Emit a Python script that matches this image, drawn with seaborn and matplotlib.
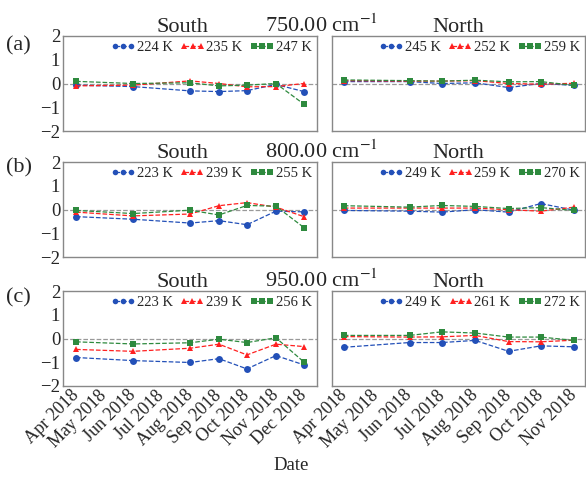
import pandas as pd
import matplotlib
matplotlib.use("Agg")
import matplotlib.pyplot as plt
import matplotlib.dates as mdates
import seaborn as sns

# months with data
south_dates = ['2018-04-01', '2018-06-01', '2018-08-01', '2018-09-01',
               '2018-10-01', '2018-11-01', '2018-12-01']
north_dates = ['2018-04-01', '2018-06-01', '2018-07-01', '2018-08-01',
               '2018-09-01', '2018-10-01', '2018-11-01']

wavenumbers = ['750.00', '800.00', '950.00']
panel_tags = ['(a)', '(b)', '(c)']

# 750 cm-1
s750_labels = ['224 K', '235 K', '247 K']
s750_blue = [-0.07, -0.13, -0.31, -0.34, -0.30, -0.04, -0.34]
s750_red = [-0.10, -0.07, 0.11, 0.00, -0.14, -0.13, 0.00]
s750_green = [0.09, 0.00, 0.03, -0.10, -0.07, 0.00, -0.87]
n750_labels = ['245 K', '252 K', '259 K']
n750_blue = [0.08, 0.08, 0.00, 0.03, -0.17, 0.00, -0.08]
n750_red = [0.12, 0.10, 0.10, 0.12, 0.00, -0.03, 0.01]
n750_green = [0.15, 0.12, 0.10, 0.14, 0.07, 0.08, -0.08]

# 800 cm-1
s800_labels = ['223 K', '239 K', '255 K']
s800_blue = [-0.30, -0.41, -0.57, -0.47, -0.64, -0.07, -0.10]
s800_red = [-0.11, -0.27, -0.19, 0.16, 0.29, 0.10, -0.30]
s800_green = [-0.04, -0.17, -0.03, -0.23, 0.17, 0.14, -0.76]
n800_labels = ['249 K', '259 K', '270 K']
n800_blue = [-0.04, -0.07, -0.11, -0.01, -0.11, 0.25, -0.03]
n800_red = [0.06, 0.06, 0.06, 0.06, -0.01, -0.07, 0.10]
n800_green = [0.16, 0.10, 0.17, 0.13, 0.04, 0.08, -0.04]

# 950 cm-1
s950_labels = ['223 K', '239 K', '256 K']
s950_blue = [-0.80, -0.93, -1.01, -0.85, -1.28, -0.72, -1.11]
s950_red = [-0.46, -0.54, -0.41, -0.24, -0.69, -0.24, -0.34]
s950_green = [-0.14, -0.23, -0.18, -0.03, -0.17, 0.03, -0.99]
n950_labels = ['249 K', '261 K', '272 K']
n950_blue = [-0.37, -0.17, -0.17, -0.08, -0.54, -0.31, -0.35]
n950_red = [0.08, 0.06, 0.07, 0.13, -0.13, -0.14, -0.07]
n950_green = [0.13, 0.13, 0.28, 0.23, 0.06, 0.06, -0.08]

south_rows = [
    (s750_labels, [s750_blue, s750_red, s750_green]),
    (s800_labels, [s800_blue, s800_red, s800_green]),
    (s950_labels, [s950_blue, s950_red, s950_green]),
]
north_rows = [
    (n750_labels, [n750_blue, n750_red, n750_green]),
    (n800_labels, [n800_blue, n800_red, n800_green]),
    (n950_labels, [n950_blue, n950_red, n950_green]),
]

colors = ['#2350b8', '#ff2020', '#2e8a3e']
markers = ['o', '^', 's']

sns.set_style('white')
plt.rcParams['font.family'] = ['Liberation Serif', 'DejaVu Serif']
plt.rcParams['mathtext.fontset'] = 'stix'

W, H = 586, 479
fig = plt.figure(figsize=(W / 100, H / 100), dpi=100)

row_px = [(36, 131), (162, 257), (291, 386)]
tag_px = [46, 168, 298]
left_px = (63, 317)
right_px = (332, 585)


def make_ax(xpx, ypx):
    return fig.add_axes([xpx[0] / W, 1 - ypx[1] / H,
                         (xpx[1] - xpx[0]) / W, (ypx[1] - ypx[0]) / H])


def draw_panel(ax, dates, labels, series, xlim, show_y, show_x):
    x = pd.to_datetime(dates)
    ax.axhline(0, color='#999999', lw=0.9, ls='--', zorder=1)
    for lab, vals, c, m in zip(labels, series, colors, markers):
        sns.lineplot(x=x, y=vals, ax=ax, color=c, marker=m, linestyle='--',
                     lw=0.9, markersize=5, markeredgewidth=0, label=lab)
    ax.set_ylim(-2, 2)
    ax.set_yticks([-2, -1, 0, 1, 2])
    ax.set_xlim(pd.to_datetime(xlim[0]), pd.to_datetime(xlim[1]))
    ax.xaxis.set_major_locator(mdates.MonthLocator())
    ax.xaxis.set_major_formatter(mdates.DateFormatter('%b %Y'))
    ax.set_xlabel('')
    ax.set_ylabel('')
    ax.tick_params(direction='in', length=3, color='#888888', labelsize=13.5, pad=2)
    ax.tick_params(axis='x', pad=5)
    if not show_y:
        ax.set_yticklabels([])
    if show_x:
        for t in ax.get_xticklabels():
            t.set_rotation(45)
            t.set_ha('right')
            t.set_va('center')
            t.set_rotation_mode('anchor')
            t.set_fontsize(13)
    else:
        ax.set_xticklabels([])
    for s in ax.spines.values():
        s.set_color('#888888')
        s.set_linewidth(1.0)
    ax.legend(loc='upper right', ncol=3, frameon=False, numpoints=3,
              fontsize=10.5, handlelength=1.7, handletextpad=0.1,
              columnspacing=0.5, borderaxespad=0.15, borderpad=0.2,
              markerscale=0.8)


for i in range(3):
    top, bottom = row_px[i]
    axl = make_ax(left_px, row_px[i])
    axr = make_ax(right_px, row_px[i])
    draw_panel(axl, south_dates, south_rows[i][0], south_rows[i][1],
               ('2018-03-18', '2018-12-15'), True, i == 2)
    draw_panel(axr, north_dates, north_rows[i][0], north_rows[i][1],
               ('2018-03-21', '2018-11-11'), False, i == 2)
    ty = 1 - (top - 4) / H
    fig.text(182 / W, ty, 'South', ha='center', va='baseline', fontsize=16)
    fig.text(458 / W, ty, 'North', ha='center', va='baseline', fontsize=16)
    fig.text(322 / W, ty, wavenumbers[i] + r' cm$^{-1}$', ha='center',
             va='baseline', fontsize=16)
    fig.text(6 / W, 1 - tag_px[i] / H, panel_tags[i], ha='left', va='center',
             fontsize=16)

fig.text(291 / W, 1 - 466 / H, 'Date', ha='center', va='center', fontsize=13.5)

fig.savefig('out.png', dpi=100)
